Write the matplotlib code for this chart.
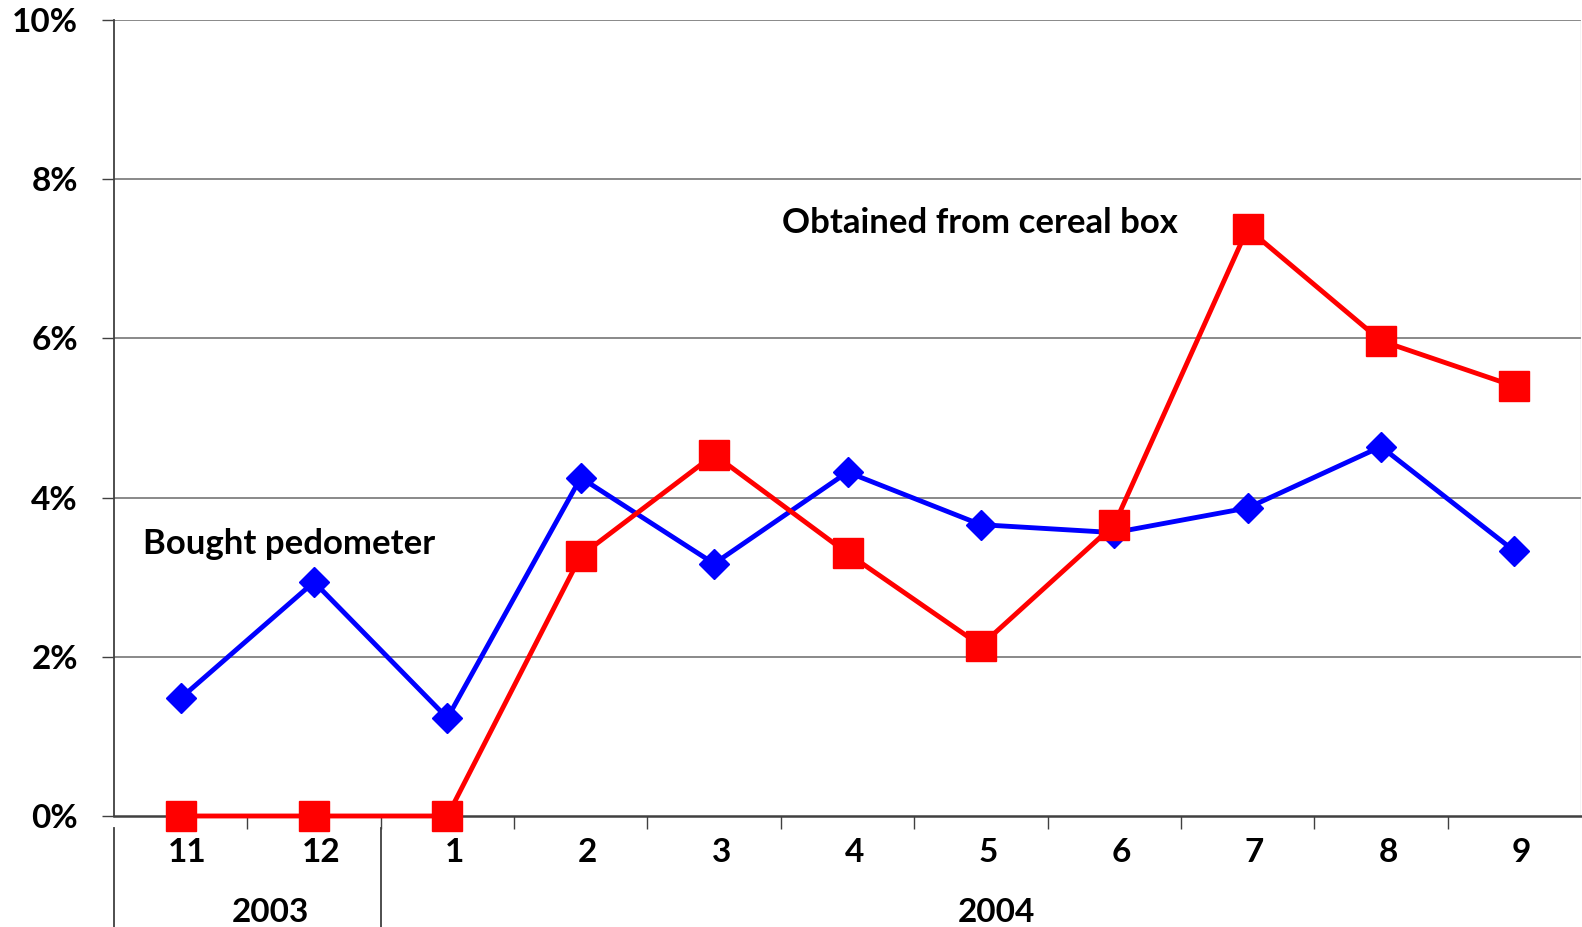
import matplotlib
matplotlib.use("Agg")
import matplotlib.pyplot as plt
from matplotlib.transforms import blended_transform_factory, ScaledTranslation

plt.rcParams['font.family'] = ['Lato', 'DejaVu Sans']
plt.rcParams['font.weight'] = 'bold'

months = ["11", "12", "1", "2", "3", "4", "5", "6", "7", "8", "9"]
years = ["2003", "2004"]
year_centers = [0.67, 6.12]
bought_pedometer = [1.48, 2.94, 1.23, 4.25, 3.17, 4.32, 3.66, 3.56, 3.87, 4.64, 3.33]
cereal_box = [0.0, 0.0, 0.0, 3.27, 4.54, 3.30, 2.14, 3.66, 7.38, 5.97, 5.40]
y_ticks = [0, 2, 4, 6, 8, 10]

W, H = 1582, 927
fig = plt.figure(figsize=(W / 100, H / 100), dpi=100)
ax = fig.add_axes([114 / W, 1 - 816 / H, (1581 - 114) / W, (816 - 20) / H])

x = list(range(len(months)))
ax.plot(x, bought_pedometer, color="#0000FF", lw=3.5, marker="D", markersize=15.5,
        markeredgecolor="#0000FF", zorder=3, clip_on=False)
ax.plot(x, cereal_box, color="#FF0000", lw=3.5, marker="s", markersize=21.5,
        markeredgecolor="#FF0000", zorder=4, clip_on=False)

ax.set_xlim(-0.5, len(months) - 0.5)
ax.set_ylim(0, 10)

# horizontal gridlines
for v in y_ticks[1:]:
    ax.axhline(v, color="#808080", lw=1.3, zorder=1)

for s in ["top", "right"]:
    ax.spines[s].set_visible(False)
ax.spines["left"].set_color("#404040")
ax.spines["left"].set_linewidth(1.3)
ax.spines["bottom"].set_color("#404040")
ax.spines["bottom"].set_linewidth(1.8)
ax.axvline(len(months) - 0.5, color="#c8c8c8", lw=1.0, zorder=1)

ax.set_yticks(y_ticks)
ax.set_yticklabels([f"{v}%" for v in y_ticks])
ax.tick_params(axis="y", length=9, width=1.0, color="#404040", pad=17, labelsize=24)

ax.set_xticks(x)
ax.set_xticklabels(months)
ax.set_xticks([i + 0.5 for i in range(len(months) - 1)], minor=True)
ax.tick_params(axis="x", which="major", length=0, pad=16, labelsize=24)
ax.tick_params(axis="x", which="minor", length=9, width=1.0, color="#404040")
shift = ScaledTranslation(7 / 100, 0, fig.dpi_scale_trans)
for lbl in ax.get_xticklabels():
    lbl.set_transform(lbl.get_transform() + shift)

# year grouping below the month labels
trans = blended_transform_factory(ax.transData, ax.transAxes)
bottom_ax = -(927 - 816) / (816 - 20)
for xs in [-0.5, 1.5]:
    ax.plot([xs, xs], [-12 / 796, bottom_ax], color="#404040", lw=1.3,
            transform=trans, clip_on=False)
for yr, xc in zip(years, year_centers):
    ax.text(xc, -(912 - 816) / 796, yr, transform=trans, ha="center", va="center",
            fontsize=24, fontweight="bold")

ax.text(-0.28, 3.42, "Bought pedometer", ha="left", va="center", fontsize=25,
        fontweight="bold")
ax.text(5.99, 7.45, "Obtained from cereal box", ha="center", va="center", fontsize=25,
        fontweight="bold")

fig.savefig("out.png", dpi=100)
